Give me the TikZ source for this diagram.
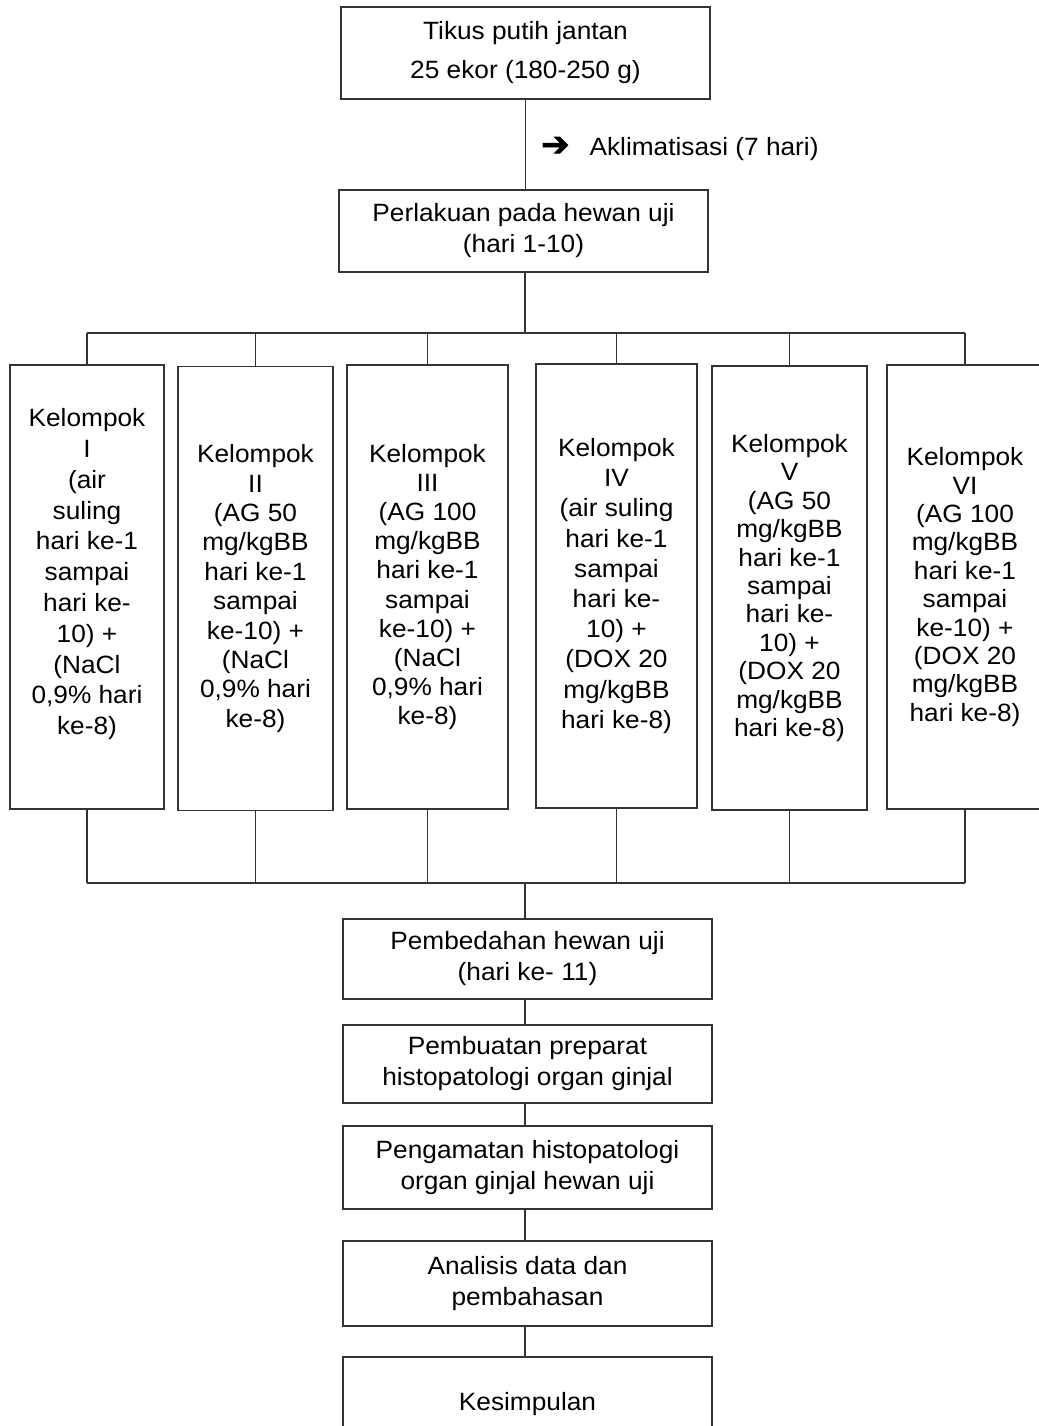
\documentclass[tikz,border=0pt]{standalone}
\usepackage{fontspec}
\setmainfont{Liberation Sans}[FakeStretch=1.05]
\newfontfamily\panahfont{DejaVu Sans}[FakeBold=2]
\usepackage{tikz}
\usetikzlibrary{positioning}
\definecolor{garis}{HTML}{333333}

\begin{document}
\begin{tikzpicture}[x=0.5pt, y=-0.5pt,
  every node/.style={font=\fontsize{12.5}{15.5}\selectfont},
  kotak/.style={draw=garis,line width=0.65pt,inner sep=0pt,align=center,
                minimum width=369*0.5pt,minimum height=#1*0.5pt},
  kelompok/.style={draw=garis,line width=0.65pt,inner sep=0pt,align=center,
                minimum height=444*0.5pt,minimum width=#1*0.5pt},
  jarak/.style={font=\fontsize{12.5}{#1}\selectfont},
  hubung/.style={draw=garis,line width=0.65pt}]
\clip (0,0) rectangle (1039,1426);
\fill[white] (0,0) rectangle (1039,1426);
% alur atas
\node[kotak=92] (tikus) at (525.5,53) {Tikus putih jantan\\[4pt] 25 ekor (180-250 g)};
\node[kotak=82] (perlakuan) at (523.5,231) {Perlakuan pada hewan uji\\ (hari 1-10)};
\node[anchor=west] (aklim) at (534,149) {{\panahfont\fontsize{17}{17}\selectfont ➔}\hspace{10pt}Aklimatisasi (7 hari)};
\draw[hubung] (tikus.south) -- (tikus.south |- perlakuan.north);
% kelompok perlakuan
\node[kelompok=154,jarak=15.4pt] (k1) at (87,587) {Kelompok\\I\\(air\\suling\\hari ke-1\\sampai\\hari ke-\\10) +\\(NaCl\\0,9\% hari\\ke-8)\\ \mbox{}};
\node[kelompok=155,jarak=14.7pt] (k2) at (255.5,588.5) {Kelompok\\II\\(AG 50\\mg/kgBB\\hari ke-1\\sampai\\ke-10) +\\(NaCl\\0,9\% hari\\ke-8)};
\node[kelompok=161,jarak=14.6pt] (k3) at (427.5,587) {Kelompok\\III\\(AG 100\\mg/kgBB\\hari ke-1\\sampai\\ke-10) +\\(NaCl\\0,9\% hari\\ke-8)};
\node[kelompok=161,jarak=15.1pt] (k4) at (616.5,586) {Kelompok\\IV\\(air suling\\hari ke-1\\sampai\\hari ke-\\10) +\\(DOX 20\\mg/kgBB\\hari ke-8)};
\node[kelompok=155,jarak=14.2pt] (k5) at (789.5,588) {Kelompok\\V\\(AG 50\\mg/kgBB\\hari ke-1\\sampai\\hari ke-\\10) +\\(DOX 20\\mg/kgBB\\hari ke-8)};
\node[kelompok=156,jarak=14.2pt] (k6) at (965,587) {Kelompok\\VI\\(AG 100\\mg/kgBB\\hari ke-1\\sampai\\ke-10) +\\(DOX 20\\mg/kgBB\\hari ke-8)};
\coordinate (atas) at (525,333);
\coordinate (bawah) at (525,883);
\draw[hubung] (perlakuan.south -| atas) -- (atas);
\draw[hubung] (k1.north |- atas) -- (k6.north |- atas);
\draw[hubung] (k1.south |- bawah) -- (k6.south |- bawah);
\foreach \k in {k1,k2,k3,k4,k5,k6} {
  \draw[hubung] (\k.north) -- (\k.north |- atas);
  \draw[hubung] (\k.south) -- (\k.south |- bawah);
}
% alur bawah
\node[kotak=80] (bedah) at (527.5,959) {Pembedahan hewan uji\\ (hari ke- 11)};
\node[kotak=78] (preparat) at (527.5,1064) {Pembuatan preparat\\ histopatologi organ ginjal};
\node[kotak=83] (amati) at (527.5,1167.5) {Pengamatan histopatologi\\ organ ginjal hewan uji};
\node[kotak=85] (analisis) at (527.5,1283.5) {Analisis data dan\\ pembahasan};
\node[kotak=94] (simpul) at (527.5,1404) {Kesimpulan};
\draw[hubung] (bawah) -- (bawah |- bedah.north);
\draw[hubung] (bedah.south -| bawah) -- (bawah |- preparat.north);
\draw[hubung] (preparat.south -| bawah) -- (bawah |- amati.north);
\draw[hubung] (amati.south -| bawah) -- (bawah |- analisis.north);
\draw[hubung] (analisis.south -| bawah) -- (bawah |- simpul.north);
\end{tikzpicture}
\end{document}
